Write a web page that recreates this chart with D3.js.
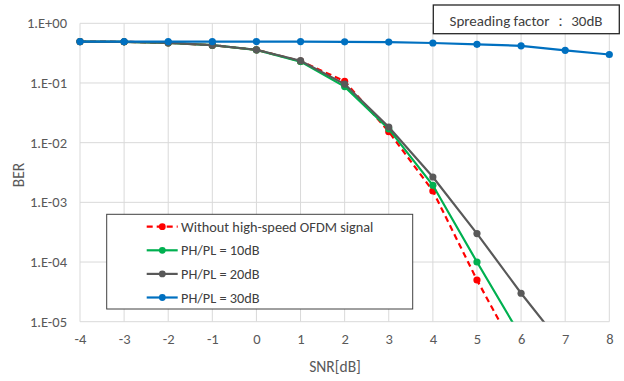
<!DOCTYPE html>
<html><head><meta charset="utf-8">
<script src="https://cdn.jsdelivr.net/npm/d3@7"></script>
<style>body{margin:0;background:#fff}svg{display:block}</style>
</head><body><svg id="c" width="624" height="381"></svg>
<script>
const snr = [-4,-3,-2,-1,0,1,2,3,4,5,6,7,8,9];
const seriesNames = ["Without high-speed OFDM signal","PH/PL = 10dB","PH/PL = 20dB","PH/PL = 30dB"];
const berWithout = [0.495,0.49,0.47,0.43,0.36,0.232,0.107,0.0153,0.00155,5.0e-5,2.2e-6];
const ber10 = [0.495,0.49,0.47,0.43,0.358,0.228,0.087,0.017,0.00193,1.0e-4,5.6e-6];
const ber20 = [0.495,0.49,0.47,0.43,0.36,0.236,0.096,0.0183,0.00266,3.0e-4,3.0e-5,3.5e-6];
const ber30 = [0.495,0.495,0.495,0.495,0.495,0.495,0.49,0.485,0.468,0.445,0.42,0.353,0.30,0.258];
const xTicks = [-4,-3,-2,-1,0,1,2,3,4,5,6,7,8];
const yTicks = [1,1e-1,1e-2,1e-3,1e-4,1e-5];
const yTickLabels = ["1.E+00","1.E-01","1.E-02","1.E-03","1.E-04","1.E-05"];
const colors = ["#FF0000","#00B050","#595959","#0070C0"];
const dashes = ["6,4",null,null,null];
const allSeries = [berWithout, ber10, ber20, ber30];

const svg = d3.select("#c");
const font = "Calibri, Carlito, 'Open Sans', sans-serif";
const x = d3.scaleLinear().domain([-4,8]).range([80,609.3]);
const y = d3.scaleLog().domain([1e-5,1]).range([321.7,23.3]);

svg.append("defs").append("clipPath").attr("id","clip")
  .append("rect").attr("x",80).attr("y",23.3).attr("width",529.3).attr("height",298.4);

// grid
svg.append("g").selectAll("line").data(xTicks).join("line")
  .attr("x1",d=>x(d)).attr("x2",d=>x(d)).attr("y1",y(1)).attr("y2",y(1e-5))
  .attr("stroke","#D9D9D9").attr("stroke-width",1);
svg.append("g").selectAll("line").data(yTicks).join("line")
  .attr("x1",x(-4)).attr("x2",x(8)).attr("y1",d=>y(d)).attr("y2",d=>y(d))
  .attr("stroke","#D9D9D9").attr("stroke-width",1);

// axes labels
const yAxis = d3.axisLeft(y).tickValues(yTicks).tickFormat((d,i)=>yTickLabels[i]).tickSize(0).tickPadding(13);
const ga = svg.append("g").attr("transform","translate(80,0)").call(yAxis);
ga.select(".domain").remove();
ga.selectAll("text").attr("font-family",font).attr("font-size",14.5).attr("fill","#595959");
const xAxis = d3.axisBottom(x).tickValues(xTicks).tickFormat(d=>String(d)).tickSize(0).tickPadding(12);
const gx = svg.append("g").attr("transform","translate(0,321.7)").call(xAxis);
gx.select(".domain").remove();
gx.selectAll("text").attr("font-family",font).attr("font-size",14.5).attr("fill","#595959");

svg.append("text").attr("x",335).attr("y",372).attr("text-anchor","middle")
  .attr("font-family",font).attr("font-size",15.5).attr("fill","#595959").text("SNR[dB]");
svg.append("text").attr("transform","translate(24,175) rotate(-90)").attr("text-anchor","middle")
  .attr("font-family",font).attr("font-size",15.5).attr("fill","#595959").text("BER");

// series
const line = d3.line().x((d,i)=>x(snr[i])).y(d=>y(d));
allSeries.forEach((s,k)=>{
  const g = svg.append("g");
  g.append("path").attr("d",line(s)).attr("fill","none").attr("stroke",colors[k])
    .attr("stroke-width",2.2).attr("stroke-dasharray",dashes[k]).attr("clip-path","url(#clip)");
  g.selectAll("circle").data(s.map((v,i)=>[snr[i],v]).filter(d=>d[0]<=8 && d[1]>=1e-5)).join("circle")
    .attr("cx",d=>x(d[0])).attr("cy",d=>y(d[1])).attr("r",3.6).attr("fill",colors[k]);
});

// legend
const lg = svg.append("g");
lg.append("rect").attr("x",106.7).attr("y",214.3).attr("width",306).attr("height",94.7)
  .attr("fill","#fff").attr("stroke","#404040").attr("stroke-width",1);
seriesNames.forEach((n,k)=>{
  const yy = 226.7 + k*23.6;
  lg.append("line").attr("x1",146.7).attr("x2",177.7).attr("y1",yy).attr("y2",yy)
    .attr("stroke",colors[k]).attr("stroke-width",2.2).attr("stroke-dasharray",dashes[k]);
  lg.append("circle").attr("cx",162.3).attr("cy",yy).attr("r",3.4).attr("fill",colors[k]);
  lg.append("text").attr("x",181).attr("y",yy+5).attr("font-family",font).attr("font-size",14.3)
    .attr("fill","#404040").text(n);
});

// annotation box
svg.append("rect").attr("x",433.3).attr("y",5).attr("width",186).attr("height",28.7)
  .attr("fill","#fff").attr("stroke","#262626").attr("stroke-width",1.3);
svg.append("text").attr("x",526).attr("y",26).attr("text-anchor","middle")
  .attr("font-family",font).attr("font-size",15).attr("fill","#404040").text("Spreading factor ： 30dB");
</script></body></html>
